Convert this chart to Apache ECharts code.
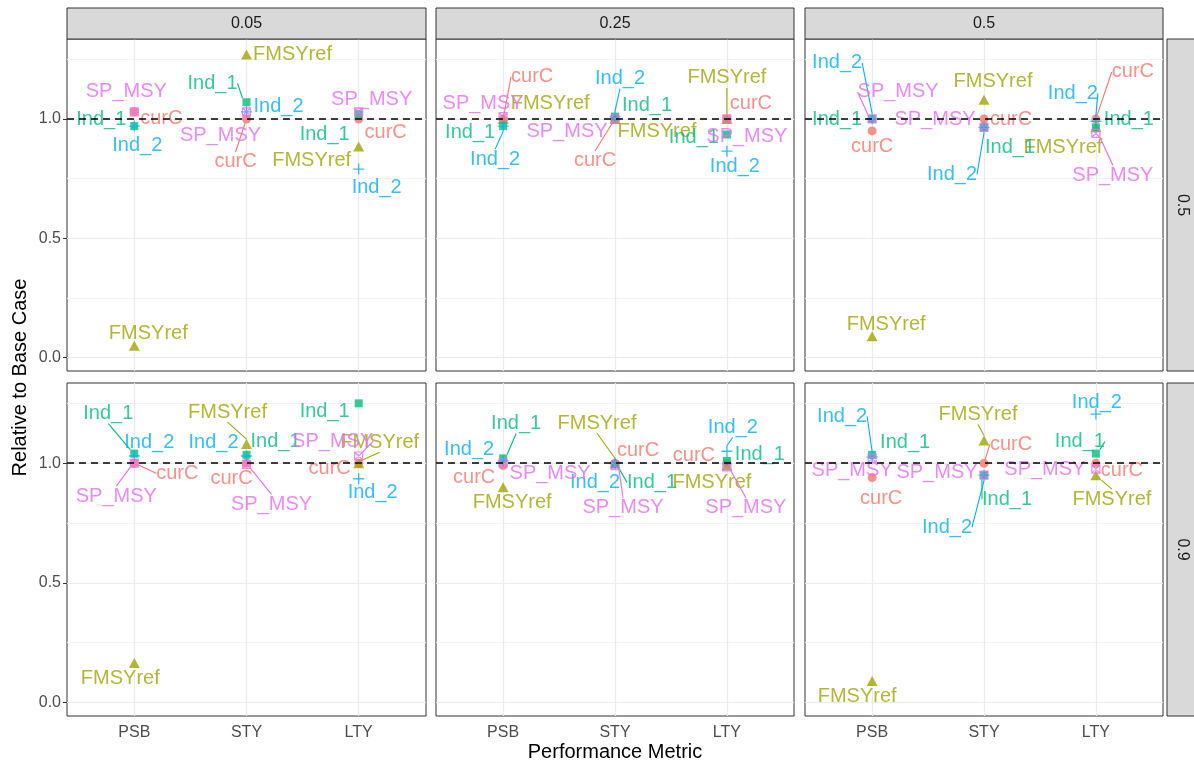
<!DOCTYPE html>
<html>
<head>
<meta charset="utf-8">
<script src="https://cdn.jsdelivr.net/npm/echarts@6/dist/echarts.min.js"></script>
<style>
  html, body { margin: 0; padding: 0; background: #ffffff; }
  #chart { width: 1194px; height: 764px; }
</style>
</head>
<body>
<div id="chart"></div>
<script>
// Facets and categories
const metrics = ['PSB', 'STY', 'LTY'];
const colFacets = ['0.05', '0.25', '0.5'];
const rowFacets = ['0.5', '0.9'];
const groups = ['curC', 'FMSYref', 'Ind_1', 'Ind_2', 'SP_MSY'];

// Values relative to base case.
// Panel order: row 0.5 (cols 0.05, 0.25, 0.5), then row 0.9 (cols 0.05, 0.25, 0.5);
// each row of an array holds PSB, STY, LTY.
const curC = [
  [1.03, 1.00, 1.00],
  [1.00, 1.00, 1.00],
  [0.95, 1.00, 1.00],
  [1.00, 1.00, 1.00],
  [0.99, 1.00, 1.00],
  [0.94, 1.00, 1.00]
];
const FMSYref = [
  [0.05, 1.27, 0.885],
  [1.00, 1.00, 1.00],
  [0.09, 1.08, 0.965],
  [0.165, 1.08, 1.00],
  [0.90, 1.00, 0.99],
  [0.09, 1.095, 0.95]
];
const Ind_1 = [
  [0.97, 1.07, 1.02],
  [0.97, 1.01, 0.935],
  [1.00, 0.965, 0.965],
  [1.04, 1.035, 1.25],
  [1.02, 0.995, 1.01],
  [1.035, 0.95, 1.04]
];
const Ind_2 = [
  [0.97, 1.03, 0.79],
  [0.97, 1.01, 0.865],
  [1.00, 0.965, 0.99],
  [1.03, 1.03, 0.935],
  [1.01, 1.00, 1.05],
  [1.025, 0.95, 1.205]
];
const SP_MSY = [
  [1.03, 1.03, 1.03],
  [1.01, 1.00, 1.00],
  [1.00, 0.965, 0.94],
  [1.00, 0.995, 1.03],
  [1.00, 0.99, 0.985],
  [1.02, 0.95, 0.975]
];

// Axis ticks and the reference level
const yTicks = [0, 0.5, 1.0];
const yMinorTicks = [0.25, 0.75, 1.25];
const baseLevel = 1.0;

// Repelled text labels: pixel offset of each label from its point, and whether a leader segment is drawn
const nudgeCurC = [
  [[27, 7, 0], [-11, 43, 1], [27, 14, 0]],
  [[29, -42, 1], [-20, 42, 1], [24, -15, 0]],
  [[0, 16, 0], [27, 1, 0], [37, -47, 1]],
  [[43, 10, 1], [-15, 15, 0], [-29, 5, 0]],
  [[-29, 12, 0], [23, -13, 0], [-33, -8, 0]],
  [[9, 21, 0], [27, -19, 1], [26, 7, 0]]
];
const nudgeFMSYref = [
  [[14, -12, 0], [46, 0, 0], [-47, 14, 0]],
  [[47, -15, 0], [42, 13, 0], [0, -41, 1]],
  [[14, -12, 0], [9, -18, 0], [-33, 20, 0]],
  [[-14, 15, 0], [-19, -32, 1], [21, -21, 1]],
  [[9, 15, 0], [-18, -40, 1], [-15, 17, 0]],
  [[-15, 15, 0], [-6, -26, 1], [16, 24, 1]]
];
const nudgeInd1 = [
  [[-33, -7, 0], [-34, -19, 1], [-34, 20, 0]],
  [[-33, 6, 0], [32, -11, 0], [-33, 3, 0]],
  [[-35, 1, 0], [26, 20, 0], [33, -8, 0]],
  [[-26, -40, 1], [29, -13, 0], [-34, 8, 0]],
  [[13, -35, 1], [37, 18, 1], [33, -6, 0]],
  [[33, -12, 0], [23, 24, 1], [-16, -12, 1]]
];
const nudgeInd2 = [
  [[3, 19, 0], [32, -5, 0], [18, 18, 0]],
  [[-8, 33, 1], [5, -38, 1], [8, 15, 0]],
  [[-35, -56, 1], [-32, 47, 1], [-23, -28, 1]],
  [[15, -14, 0], [-33, -14, 0], [14, 14, 0]],
  [[-34, -11, 0], [-20, 19, 0], [6, -24, 1]],
  [[-30, -41, 1], [-37, 52, 1], [1, -12, 0]]
];
const nudgeSPMSY = [
  [[-8, -20, 0], [-26, 24, 0], [13, -12, 0]],
  [[-20, -13, 0], [-48, 13, 0], [20, 18, 0]],
  [[26, -27, 1], [-49, -8, 0], [17, 42, 1]],
  [[-18, 33, 1], [25, 40, 1], [-26, -15, 1]],
  [[47, 10, 0], [8, 42, 1], [19, 41, 1]],
  [[-20, 12, 0], [-47, -3, 0], [-51, 0, 0]]
];

const values = { curC, FMSYref, Ind_1, Ind_2, SP_MSY };
const nudges = { curC: nudgeCurC, FMSYref: nudgeFMSYref, Ind_1: nudgeInd1, Ind_2: nudgeInd2, SP_MSY: nudgeSPMSY };

const colors = {
  curC: '#F8766D', FMSYref: '#A3A500', Ind_1: '#00BF7D', Ind_2: '#00B0F6', SP_MSY: '#E76BF3'
};
const FONT = '"Liberation Sans", Arial, Helvetica, sans-serif';

// point shapes: filled circle, filled triangle, filled square, plus, square with cross
const shapes = {
  curC:    { symbol: 'circle', symbolSize: 9, itemStyle: { color: colors.curC } },
  FMSYref: { symbol: 'triangle', symbolSize: [11, 10], itemStyle: { color: colors.FMSYref } },
  Ind_1:   { symbol: 'rect', symbolSize: 8, itemStyle: { color: colors.Ind_1 } },
  Ind_2:   { symbol: 'path://M5,0L5,10M0,5L10,5', symbolSize: 11,
             itemStyle: { color: 'rgba(0,0,0,0)', borderColor: colors.Ind_2, borderWidth: 1.3 } },
  SP_MSY:  { symbol: 'path://M0,0L10,0L10,10L0,10ZM0,0L10,10M10,0L0,10', symbolSize: 8,
             itemStyle: { color: 'rgba(0,0,0,0)', borderColor: colors.SP_MSY, borderWidth: 1.2 } }
};

// panel geometry
const colLeft = [67, 436, 805];
const colWidth = [359, 358, 358];
const rowTop = [39, 383];
const rowHeight = [332, 333];
const stripTop = 8, stripSize = 31, rightStripLeft = 1167;
const yMin = -0.056, yMax = 1.335;

const grids = [], xAxes = [], yAxes = [], series = [], graphics = [];

for (let r = 0; r < rowFacets.length; r++) {
  for (let c = 0; c < colFacets.length; c++) {
    const p = r * colFacets.length + c;
    grids.push({
      left: colLeft[c], top: rowTop[r], width: colWidth[c], height: rowHeight[r],
      show: true, backgroundColor: '#ffffff', borderColor: '#333333', borderWidth: 1
    });
    xAxes.push({
      type: 'value', gridIndex: p, min: 0.4, max: 3.6,
      splitLine: { show: false }, axisLine: { show: false },
      axisTick: { show: r === rowFacets.length - 1, customValues: [1, 2, 3], length: 4,
                  lineStyle: { color: '#333333', width: 1 } },
      axisLabel: { show: r === rowFacets.length - 1, customValues: [1, 2, 3],
                   formatter: v => metrics[Math.round(v) - 1],
                   color: '#4D4D4D', fontSize: 16, fontFamily: FONT, margin: 9 }
    });
    yAxes.push({
      type: 'value', gridIndex: p, min: yMin, max: yMax,
      splitLine: { show: false }, axisLine: { show: false },
      axisTick: { show: c === 0, customValues: yTicks, length: 4,
                  lineStyle: { color: '#333333', width: 1 } },
      axisLabel: { show: c === 0, customValues: yTicks, formatter: v => v.toFixed(1),
                   color: '#4D4D4D', fontSize: 16, fontFamily: FONT, margin: 6 }
    });

    // panel grid lines
    series.push({
      type: 'scatter', xAxisIndex: p, yAxisIndex: p, data: [], silent: true,
      markLine: {
        silent: true, symbol: 'none', animation: false, z: 1,
        label: { show: false }, emphasis: { disabled: true },
        data: [
          ...yMinorTicks.map(v => ({ yAxis: v, lineStyle: { color: '#F2F2F2', width: 1, type: 'solid' } })),
          ...yTicks.map(v => ({ yAxis: v, lineStyle: { color: '#EBEBEB', width: 1.2, type: 'solid' } })),
          ...metrics.map((m, i) => ({ xAxis: i + 1, lineStyle: { color: '#EBEBEB', width: 1.2, type: 'solid' } }))
        ]
      }
    });

    // points with labels
    groups.forEach((g, gi) => {
      const vals = values[g][p];
      const offs = nudges[g][p];
      series.push(Object.assign({
        type: 'scatter', name: g, xAxisIndex: p, yAxisIndex: p, z: 3 + gi,
        animation: false, emphasis: { disabled: true },
        data: vals.map((v, i) => ({ value: [i + 1, v], labelLine: { show: !!offs[i][2] } })),
        label: { show: true, position: 'inside', formatter: g, color: colors[g],
                 fontSize: 20, fontFamily: FONT },
        labelLine: { show: false, lineStyle: { color: colors[g], width: 1.1 } },
        labelLayout: prm => ({ dx: offs[prm.dataIndex][0], dy: offs[prm.dataIndex][1] })
      }, shapes[g]));
    });

    // dashed reference line at the base case
    series.push({
      type: 'scatter', xAxisIndex: p, yAxisIndex: p, data: [], silent: true,
      markLine: {
        silent: true, symbol: 'none', animation: false, z: 50,
        label: { show: false }, emphasis: { disabled: true },
        data: [{ yAxis: baseLevel }],
        lineStyle: { color: '#000000', width: 1.5, type: [7, 5] }
      }
    });
  }
}

// facet strips along the top
colFacets.forEach((f, c) => {
  graphics.push({
    type: 'rect', z: 100,
    shape: { x: colLeft[c], y: stripTop, width: colWidth[c], height: stripSize },
    style: { fill: '#D9D9D9', stroke: '#333333', lineWidth: 1 }
  });
  graphics.push({
    type: 'text', z: 101,
    x: colLeft[c] + colWidth[c] / 2, y: stripTop + stripSize / 2,
    style: { text: f, fill: '#1A1A1A', font: '16px ' + FONT, align: 'center', verticalAlign: 'middle' }
  });
});
// facet strips on the right
rowFacets.forEach((f, r) => {
  graphics.push({
    type: 'rect', z: 100,
    shape: { x: rightStripLeft, y: rowTop[r], width: stripSize, height: rowHeight[r] },
    style: { fill: '#D9D9D9', stroke: '#333333', lineWidth: 1 }
  });
  graphics.push({
    type: 'text', z: 101,
    x: rightStripLeft + stripSize / 2, y: rowTop[r] + rowHeight[r] / 2,
    rotation: -Math.PI / 2,
    style: { text: f, fill: '#1A1A1A', font: '16px ' + FONT, align: 'center', verticalAlign: 'middle' }
  });
});
// axis titles
graphics.push({
  type: 'text', z: 101, x: (colLeft[0] + colLeft[2] + colWidth[2]) / 2, y: 752,
  style: { text: 'Performance Metric', fill: '#000000', font: '20px ' + FONT, align: 'center', verticalAlign: 'middle' }
});
graphics.push({
  type: 'text', z: 101, x: 20, y: (rowTop[0] + rowTop[1] + rowHeight[1]) / 2,
  rotation: Math.PI / 2,
  style: { text: 'Relative to Base Case', fill: '#000000', font: '20px ' + FONT, align: 'center', verticalAlign: 'middle' }
});

const chart = echarts.init(document.getElementById('chart'), null, { renderer: 'canvas' });
chart.setOption({
  backgroundColor: '#ffffff',
  animation: false,
  grid: grids,
  xAxis: xAxes,
  yAxis: yAxes,
  series: series,
  graphic: graphics
});
</script>
</body>
</html>
